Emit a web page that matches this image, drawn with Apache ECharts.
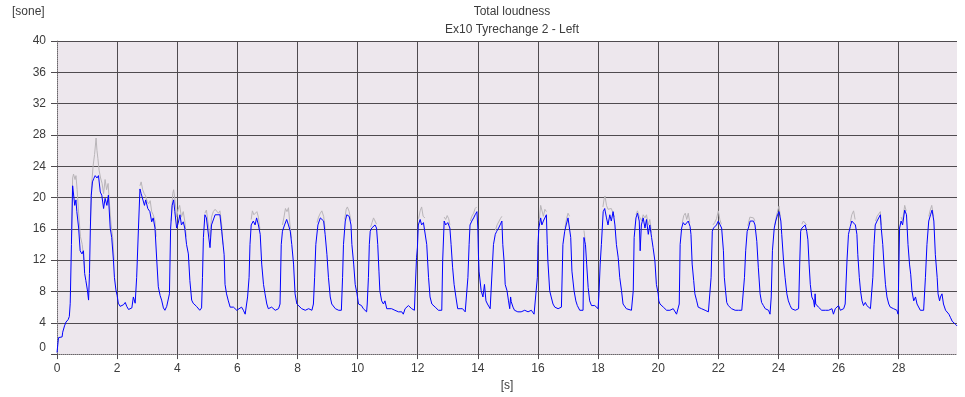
<!DOCTYPE html>
<html>
<head>
<meta charset="utf-8">
<script src="https://cdn.jsdelivr.net/npm/echarts@6.0.0/dist/echarts.min.js"></script>
<style>
  html, body { margin: 0; padding: 0; background: #fff; }
  #loudness { width: 965px; height: 397px; }
</style>
</head>
<body>
<div id="loudness"></div>
<script>
// 蓝线: Ex10 Tyrechange 2 - Left, [时间 s, 响度 sone]
var blue0to5 = [
    [0, 0.2], [0.05, 2.1], [0.17, 2.2], [0.19, 2.8], [0.25, 3.6], [0.3, 4.1], [0.37, 4.4], [0.41, 4.8],
    [0.44, 6.5], [0.48, 14], [0.52, 21.5], [0.56, 21.3], [0.59, 19], [0.63, 19.7], [0.66, 18.2], [0.72, 16.1],
    [0.77, 13.2], [0.83, 12.8], [0.88, 13.2], [0.92, 10.3], [0.96, 9.4], [1.01, 8.2], [1.05, 6.9], [1.08, 10.3],
    [1.11, 16.1], [1.14, 20.3], [1.18, 22], [1.22, 22.4], [1.27, 22.8], [1.33, 22.5], [1.38, 22.8], [1.44, 20.7],
    [1.49, 20.3], [1.55, 18.6], [1.6, 19.9], [1.66, 19], [1.71, 20.3], [1.77, 16.1], [1.82, 14.9], [1.88, 11.9],
    [1.91, 9.8], [1.96, 8.2], [2, 7.5], [2.04, 6.5], [2.1, 6.1], [2.16, 5.9], [2.21, 6.3], [2.27, 6.6],
    [2.32, 6.1], [2.38, 5.7], [2.49, 5.9], [2.54, 7.3], [2.6, 6.5], [2.65, 9.8], [2.71, 16.1], [2.76, 21.1],
    [2.8, 20.5], [2.84, 20.3], [2.91, 19], [2.95, 19.7], [3.02, 18.6], [3.09, 18.2], [3.15, 16.9], [3.2, 17.4],
    [3.26, 16.1], [3.32, 11.9], [3.37, 8.6], [3.43, 7.5], [3.48, 6.9], [3.54, 5.9], [3.59, 5.6], [3.65, 6.1],
    [3.7, 5.9], [3.74, 7.7], [3.78, 16.1], [3.83, 19], [3.88, 19.7], [3.92, 18.2], [3.98, 16.1], [4.03, 16.7],
    [4.09, 17.8], [4.14, 16.5], [4.2, 16.9], [4.25, 16.1], [4.31, 14], [4.37, 12.8], [4.42, 9.4], [4.48, 6.9],
    [4.53, 6.5], [4.59, 6.3], [4.64, 6.1], [4.7, 5.9], [4.75, 5.6], [4.81, 5.9], [4.84, 9.8], [4.87, 14.9],
    [4.92, 17.8], [4.97, 17.4], [5.03, 17.6]
];
var blue5to10 = [
    [5.09, 13.6], [5.14, 16.5], [5.26, 17.8], [5.31, 18], [5.42, 17.8], [5.48, 15.7], [5.56, 12.7], [5.59, 8.9],
    [5.64, 7.7], [5.7, 6.8], [5.76, 6], [5.81, 6.2], [5.87, 6], [5.92, 5.8], [5.98, 5.6], [6.03, 5.4],
    [6.14, 6], [6.2, 5.6], [6.26, 5.1], [6.31, 4.9], [6.34, 7.3], [6.39, 9.8], [6.42, 14], [6.46, 16.5],
    [6.53, 17], [6.59, 16.5], [6.64, 17.4], [6.7, 16.5], [6.76, 15.3], [6.81, 11.5], [6.87, 8.9], [6.92, 7.7],
    [6.98, 6.4], [7.03, 5.8], [7.14, 6], [7.26, 5.6], [7.37, 5.8], [7.42, 6.4], [7.46, 14], [7.5, 15.7],
    [7.57, 16.5], [7.64, 17.2], [7.7, 16.5], [7.76, 15.7], [7.81, 14], [7.87, 11.5], [7.92, 7.7], [7.98, 6.4],
    [8.03, 6.2], [8.14, 5.8], [8.26, 5.6], [8.37, 5.8], [8.48, 5.6], [8.53, 6.4], [8.57, 9.8], [8.61, 14],
    [8.68, 16.5], [8.76, 17.4], [8.81, 17.2], [8.87, 17], [8.92, 15.3], [8.98, 12.7], [9.03, 9.8], [9.09, 7.3],
    [9.14, 6.4], [9.26, 5.8], [9.37, 5.6], [9.46, 5.6], [9.5, 9.8], [9.53, 14], [9.59, 17], [9.64, 17.8],
    [9.72, 17.6], [9.78, 16.5], [9.81, 14], [9.87, 11.5], [9.92, 8.9], [9.98, 7.7]
];
var blue10to15 = [
    [10.03, 6.4], [10.08, 6.4], [10.13, 6.2], [10.19, 5.8], [10.24, 5.6], [10.3, 5.4], [10.32, 6.4], [10.36, 9.8],
    [10.39, 14], [10.42, 15.7], [10.47, 16.1], [10.52, 15.9], [10.58, 16.5], [10.63, 16.1], [10.67, 14], [10.71, 10.6],
    [10.74, 8.1], [10.8, 6.8], [10.86, 6.4], [10.91, 6.8], [10.97, 5.8], [11.02, 5.6], [11.13, 5.8], [11.24, 5.6],
    [11.36, 5.4], [11.47, 5.4], [11.52, 5.1], [11.58, 5.8], [11.69, 6.2], [11.74, 6], [11.8, 5.8], [11.89, 5.6],
    [11.91, 7.7], [11.96, 12.3], [11.99, 13.6], [12.02, 16.5], [12.08, 17.2], [12.13, 16.5], [12.19, 16.8], [12.24, 17],
    [12.3, 14], [12.36, 9.8], [12.41, 7.3], [12.47, 6.4], [12.52, 6.4], [12.58, 6], [12.69, 5.6], [12.74, 5.4],
    [12.8, 5.6], [12.83, 11.9], [12.88, 17], [12.93, 16.5], [13, 16.8], [13.07, 16.1], [13.11, 14], [13.16, 11.1],
    [13.21, 8.9], [13.27, 7.3], [13.33, 5.8], [13.41, 5.8], [13.49, 5.8], [13.58, 5.4], [13.63, 5.6], [13.67, 9.8],
    [13.71, 14], [13.74, 16.5], [13.8, 17], [13.86, 17.4], [13.91, 17.8], [13.97, 18.2], [14, 16.1], [14.02, 12.7],
    [14.04, 10.6], [14.11, 8.1], [14.17, 7.3], [14.22, 8.9], [14.27, 6.8], [14.32, 6.4], [14.41, 5.8], [14.47, 5.6],
    [14.52, 14], [14.58, 15.3], [14.63, 15.7], [14.69, 16.1], [14.74, 16.5], [14.8, 17], [14.83, 14], [14.88, 11.5],
    [14.91, 8.9], [14.97, 8.1]
];
var blue15to20 = [
    [15.02, 6.8], [15.06, 5.8], [15.09, 7.3], [15.11, 6.7], [15.17, 6], [15.22, 5.6], [15.33, 5.4], [15.44, 5.4],
    [15.56, 5.6], [15.67, 5.4], [15.78, 5.6], [15.87, 5.1], [15.91, 5.1], [15.94, 8.1], [15.98, 9.8], [16, 14],
    [16.03, 16.1], [16.09, 17.4], [16.13, 16.5], [16.18, 17], [16.22, 17.2], [16.28, 17.8], [16.31, 14], [16.33, 11.9],
    [16.39, 8.1], [16.44, 7.3], [16.5, 6.4], [16.56, 6], [16.61, 6.2], [16.67, 5.8], [16.72, 5.6], [16.78, 6],
    [16.83, 14], [16.89, 15.7], [16.94, 16.5], [17, 17.4], [17.06, 17.2], [17.09, 14.9], [17.13, 10.6], [17.2, 8.1],
    [17.26, 6.8], [17.31, 6.2], [17.39, 5.6], [17.44, 5.4], [17.5, 5.6], [17.53, 14.9], [17.58, 14], [17.62, 11.5],
    [17.67, 8.5], [17.72, 6.8], [17.78, 6.2], [17.83, 6.4], [17.89, 6.2], [17.94, 6.4], [18, 5.8], [18.03, 7.7],
    [18.07, 11.5], [18.11, 14], [18.17, 18.2], [18.22, 18.6], [18.28, 17.4], [18.33, 16.5], [18.39, 17.8], [18.44, 17],
    [18.5, 18.2], [18.56, 16.5], [18.61, 14], [18.67, 12.3], [18.72, 9.8], [18.78, 8.1], [18.83, 6.4], [18.89, 6.2],
    [18.94, 5.8], [19, 5.6], [19.11, 5.6], [19.17, 8.1], [19.2, 14.9], [19.26, 17.4], [19.31, 18], [19.37, 17],
    [19.4, 13.2], [19.44, 16.5], [19.5, 17.4], [19.56, 16.1], [19.61, 17.2], [19.67, 15.3], [19.72, 16.5], [19.78, 14.9],
    [19.83, 13.6], [19.89, 11.9], [19.94, 8.9], [20, 7.7]
];
var blue20to25 = [
    [20.02, 6.8], [20.06, 6.4], [20.11, 6.2], [20.17, 6], [20.22, 5.8], [20.28, 5.6], [20.33, 5.8], [20.39, 5.6],
    [20.44, 5.8], [20.5, 5.8], [20.56, 5.6], [20.61, 5.1], [20.67, 4.9], [20.7, 6.4], [20.73, 14], [20.78, 16.1],
    [20.83, 16.8], [20.89, 16.5], [20.94, 16.5], [21, 17], [21.06, 16.3], [21.09, 15.3], [21.13, 11.5], [21.18, 9.4],
    [21.22, 7.7], [21.28, 6.8], [21.33, 6], [21.44, 5.8], [21.56, 5.6], [21.67, 5.4], [21.72, 5.6], [21.76, 9.8],
    [21.8, 15.7], [21.84, 16.1], [21.89, 16.1], [21.94, 16.5], [22, 17], [22.06, 16.5], [22.11, 16.1], [22.17, 13.2],
    [22.2, 9.8], [22.24, 8.1], [22.28, 6.6], [22.33, 6.2], [22.39, 6], [22.44, 5.8], [22.56, 5.6], [22.67, 5.6],
    [22.78, 5.6], [22.83, 5.6], [22.87, 9.8], [22.91, 13.2], [22.96, 15.7], [23, 16.1], [23.06, 17], [23.11, 17.2],
    [23.17, 17], [23.22, 16.5], [23.28, 14.4], [23.33, 11.1], [23.39, 7.7], [23.44, 6.6], [23.5, 6.2], [23.56, 5.8],
    [23.67, 5.6], [23.72, 5.1], [23.76, 7.3], [23.8, 13.2], [23.86, 16.1], [23.91, 17], [23.97, 17.8], [24.02, 18.2],
    [24.08, 17], [24.11, 15.3], [24.17, 11.9], [24.22, 9.8], [24.28, 7.7], [24.33, 6.8], [24.39, 6.2], [24.44, 5.8],
    [24.56, 5.6], [24.61, 5.4], [24.67, 5.8], [24.71, 11.9], [24.74, 15.7], [24.78, 16.1], [24.83, 16.3], [24.89, 16.5],
    [24.94, 15.7], [24.98, 14.6]
];
var blue25to30 = [
    [25.02, 11.5], [25.06, 8.9], [25.11, 7.3], [25.17, 6.8], [25.2, 6], [25.22, 7.7], [25.24, 6.4], [25.28, 6.2],
    [25.33, 6], [25.39, 5.8], [25.44, 5.6], [25.5, 5.4], [25.56, 5.6], [25.61, 5.4], [25.67, 5.6], [25.72, 5.6],
    [25.78, 5.8], [25.83, 5.1], [25.89, 5.8], [25.94, 6], [26, 6.2], [26.06, 5.6], [26.11, 5.4], [26.17, 5.8],
    [26.22, 6.4], [26.28, 11.9], [26.33, 15.3], [26.39, 16.3], [26.44, 17], [26.5, 16.8], [26.56, 16.5], [26.61, 15.3],
    [26.64, 12.7], [26.69, 9.8], [26.73, 8.1], [26.78, 6.8], [26.83, 6.2], [26.89, 6.6], [26.94, 6.2], [27, 6],
    [27.06, 5.8], [27.11, 6], [27.14, 9.8], [27.18, 14], [27.22, 16.5], [27.28, 17], [27.33, 17.2], [27.39, 17.8],
    [27.42, 16.1], [27.47, 14], [27.51, 11.5], [27.56, 8.9], [27.61, 7.3], [27.67, 6.4], [27.72, 6], [27.78, 6.2],
    [27.83, 5.8], [27.89, 5.8], [27.94, 5.6], [27.98, 5.1], [28, 9.8], [28.03, 16.1], [28.08, 17], [28.13, 16.5],
    [28.2, 18.4], [28.26, 17.8], [28.31, 14], [28.36, 11.5], [28.4, 10.2], [28.44, 8.1], [28.5, 6.8], [28.56, 7.3],
    [28.61, 6.4], [28.67, 6.2], [28.72, 5.6], [28.78, 5.4], [28.83, 5.6], [28.89, 9.8], [28.94, 14], [29, 17],
    [29.06, 17.8], [29.11, 18.4], [29.17, 17], [29.22, 12.7], [29.28, 9.8], [29.31, 7.7], [29.36, 6.8], [29.39, 7.3],
    [29.44, 7.7], [29.49, 6.4], [29.56, 5.6], [29.61, 5.4], [29.67, 5.1], [29.72, 4.7], [29.78, 4.2], [29.83, 4],
    [29.89, 3.8], [29.94, 3.6]
];

// 灰线: 只在每个脉冲顶部露出 (其余部分被蓝线盖住)
var grayPeaks = [
    [[0.48, 14.5], [0.52, 22.5], [0.55, 23], [0.6, 22.3], [0.63, 22.8], [0.67, 21], [0.72, 18], [0.78, 15], [0.84, 14], [0.88, 14.2], [0.92, 11]],
    [[1.11, 17], [1.15, 21.5], [1.2, 24], [1.25, 25.5], [1.3, 27.6], [1.33, 26], [1.36, 25], [1.4, 23.5], [1.45, 22.5], [1.5, 21.8], [1.55, 20.5], [1.6, 22.3], [1.65, 21], [1.7, 21.8], [1.75, 19], [1.8, 16.5], [1.85, 15], [1.9, 12]],
    [[2.76, 21.5], [2.8, 22], [2.85, 21], [2.9, 20.5], [2.95, 20.2], [3, 19.5], [3.05, 19.2], [3.1, 19.6], [3.15, 18.2], [3.2, 17.8], [3.26, 17], [3.3, 15]],
    [[3.8, 17], [3.85, 20.5], [3.88, 21], [3.92, 19.8], [3.98, 17.5], [4.03, 18.5], [4.08, 19], [4.14, 17.5], [4.2, 18.2], [4.25, 17], [4.3, 15]],
    [[4.92, 18], [4.97, 18.4], [5.03, 18.3], [5.09, 15], [5.14, 17.5], [5.2, 18.2], [5.26, 18.5], [5.31, 18.6], [5.37, 18], [5.42, 18.3], [5.48, 16.5], [5.52, 14]],
    [[6.46, 17.2], [6.5, 18.3], [6.55, 17.8], [6.6, 18], [6.65, 18.2], [6.7, 17.5], [6.75, 16]],
    [[7.5, 16.5], [7.55, 17.5], [7.6, 18.6], [7.65, 18.2], [7.7, 18.7], [7.75, 16.5], [7.8, 14.8]],
    [[8.65, 16.8], [8.7, 17.5], [8.76, 18], [8.81, 18.3], [8.87, 17.6], [8.92, 16]],
    [[9.57, 17.2], [9.62, 18.5], [9.66, 18.8], [9.72, 18.2], [9.78, 17]],
    [[10.43, 16.2], [10.48, 16.8], [10.53, 17.4], [10.58, 17], [10.63, 16.6]],
    [[12.03, 17.3], [12.08, 18.3], [12.13, 18.8], [12.18, 17.6], [12.24, 17.4]],
    [[12.88, 17.5], [12.93, 17.2], [12.98, 17.7], [13.03, 17.3], [13.07, 16.5]],
    [[13.75, 17], [13.8, 17.6], [13.86, 18], [13.91, 18.6], [13.96, 18.8]],
    [[14.58, 15.8], [14.64, 16.5], [14.7, 16.5], [14.75, 17.3], [14.8, 17.6]],
    [[16.04, 17], [16.09, 19], [16.13, 18.8], [16.18, 17.6], [16.23, 18.5], [16.28, 18.2]],
    [[16.9, 16.2], [16.95, 17.3], [17, 18], [17.05, 17.6]],
    [[17.53, 15.8], [17.57, 14.5]],
    [[18.16, 18.8], [18.2, 19.8], [18.23, 20.2], [18.28, 19], [18.33, 18.5], [18.39, 18.7], [18.44, 18.6], [18.5, 18.8], [18.55, 17.5]],
    [[19.26, 17.8], [19.31, 18.3], [19.37, 17.6], [19.45, 17], [19.5, 17.8], [19.56, 17.4], [19.61, 17.8], [19.67, 16.5], [19.72, 17.2], [19.78, 15.5]],
    [[20.8, 16.8], [20.85, 17.7], [20.9, 18], [20.95, 17.2], [21, 18], [21.05, 16.8]],
    [[21.82, 16.5], [21.88, 16.8], [21.94, 17.3], [22, 18.3], [22.05, 17.2], [22.1, 16.6]],
    [[22.98, 16.4], [23.05, 17.5], [23.11, 17.6], [23.17, 17.4], [23.22, 17]],
    [[23.88, 16.5], [23.93, 17.6], [23.98, 18.4], [24.02, 18.9], [24.06, 17.6]],
    [[24.78, 16.6], [24.83, 17], [24.89, 17.2], [24.94, 16.5]],
    [[26.39, 16.8], [26.44, 17.8], [26.5, 18.3], [26.55, 17.2]],
    [[27.23, 17], [27.28, 17.6], [27.33, 17.8], [27.39, 18.2], [27.42, 16.5]],
    [[28.08, 17.5], [28.13, 17], [28.2, 19], [28.25, 18.3]],
    [[29, 17.6], [29.05, 18.4], [29.1, 19], [29.16, 17.6]]
];

// 坐标轴
var xMin = 0, xMax = 29.94, xTickStep = 2;
var yMin = 0, yMax = 40, yTickStep = 4;

var blueData = [].concat(blue0to5, blue5to10, blue10to15, blue15to20, blue20to25, blue25to30);

// 每个灰色段之间断开
var grayData = [];
grayPeaks.forEach(function (seg) {
    grayData = grayData.concat(seg);
    grayData.push([seg[seg.length - 1][0] + 0.01, '-']);
});

var chart = echarts.init(document.getElementById('loudness'));

var textColor = '#3c3c3c';
var gridColor = '#4f4b4f';
var fontName = 'Liberation Sans';

var option = {
    animation: false,
    backgroundColor: '#ffffff',
    title: [
        {
            text: 'Total loudness',
            left: 507,
            top: 1,
            textAlign: 'center',
            textStyle: {fontFamily: fontName, fontSize: 12, fontWeight: 'normal', color: textColor}
        },
        {
            text: 'Ex10 Tyrechange 2 - Left',
            left: 507,
            top: 19,
            textAlign: 'center',
            textStyle: {fontFamily: fontName, fontSize: 12, fontWeight: 'normal', color: textColor}
        },
        {
            text: '[sone]',
            left: 7,
            top: 1,
            textStyle: {fontFamily: fontName, fontSize: 12, fontWeight: 'normal', color: textColor}
        }
    ],
    grid: {
        left: 57,
        right: 8,
        top: 41,
        bottom: 39,
        show: true,
        backgroundColor: '#ede7ed',
        borderWidth: 0
    },
    xAxis: {
        type: 'value',
        min: xMin,
        max: xMax,
        interval: xTickStep,
        name: '[s]',
        nameLocation: 'middle',
        nameGap: 23,
        nameTextStyle: {fontFamily: fontName, fontSize: 12, color: textColor},
        axisLine: {show: true, onZero: false, lineStyle: {color: '#6a666a', type: [1, 1], width: 1}},
        axisTick: {show: true, length: 5, lineStyle: {color: gridColor}},
        axisLabel: {
            showMaxLabel: false,
            margin: 9,
            fontFamily: fontName,
            fontSize: 12,
            color: textColor
        },
        splitLine: {
            show: true,
            showMinLine: false,
            showMaxLine: false,
            lineStyle: {color: gridColor, width: 1}
        }
    },
    yAxis: {
        type: 'value',
        min: yMin,
        max: yMax,
        interval: yTickStep,
        axisLine: {show: true, onZero: false, lineStyle: {color: '#6a666a', type: [1, 1], width: 1}},
        axisTick: {show: true, length: 6, lineStyle: {color: gridColor}},
        axisLabel: {
            margin: 11,
            fontFamily: fontName,
            fontSize: 12,
            color: textColor,
            verticalAlignMinLabel: 'bottom'
        },
        splitLine: {
            show: true,
            showMinLine: false,
            lineStyle: {color: gridColor, width: 1}
        }
    },
    series: [
        {
            name: 'gray',
            type: 'line',
            showSymbol: false,
            silent: true,
            connectNulls: false,
            z: 2,
            lineStyle: {color: '#b9b5b9', width: 1},
            data: grayData
        },
        {
            name: 'blue',
            type: 'line',
            showSymbol: false,
            silent: true,
            z: 3,
            lineStyle: {color: '#0000ff', width: 1},
            data: blueData
        }
    ]
};

chart.setOption(option);
</script>
</body>
</html>
